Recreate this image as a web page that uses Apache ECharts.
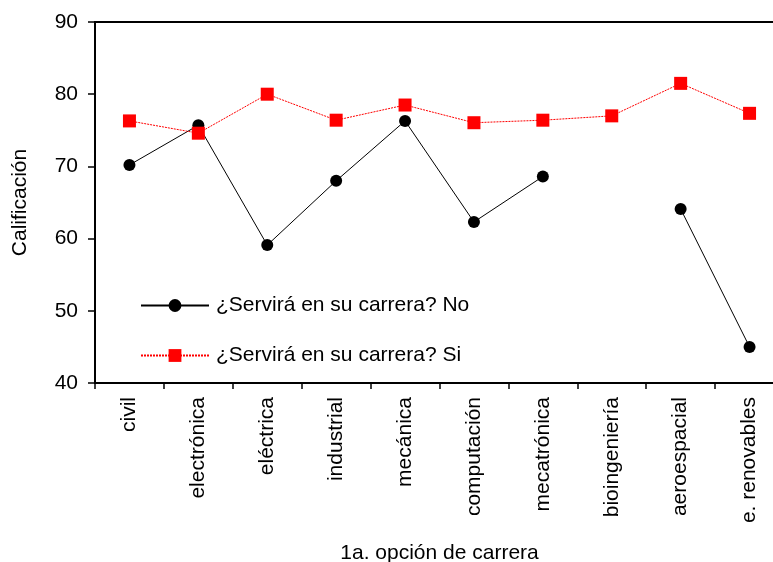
<!DOCTYPE html>
<html><head><meta charset="utf-8">
<script src="https://cdn.jsdelivr.net/npm/echarts@6/dist/echarts.min.js"></script>
<style>html,body{margin:0;padding:0;background:#fff}#c{width:773px;height:562px}</style>
</head><body><div id="c"></div>
<script>
var categories = ['civil','electrónica','eléctrica','industrial','mecánica','computación','mecatrónica','bioingeniería','aeroespacial','e. renovables'];
var serviraNo = [70.2, 75.7, 59.1, 68.0, 76.3, 62.3, 68.6, null, 64.1, 45.0];
var serviraSi = [76.3, 74.6, 80.0, 76.4, 78.5, 76.05, 76.4, 77.0, 81.5, 77.35];
var yTicks = {min: 40, max: 90, interval: 10};
var seriesNames = ['¿Servirá en su carrera? No', '¿Servirá en su carrera? Si'];
var font = 'Liberation Sans, Arial, sans-serif';
var chart = echarts.init(document.getElementById('c'), null, {renderer: 'canvas'});
chart.setOption({
  animation: false,
  backgroundColor: '#fff',
  grid: {left: 95, top: 22, height: 361, width: 689, containLabel: false, outerBoundsMode: 'none',
         show: true, borderColor: '#000', borderWidth: 2, backgroundColor: 'transparent'},
  legend: {
    orient: 'vertical', left: 140, top: 295, padding: 0, itemGap: 29, itemWidth: 68, itemHeight: 16,
    textStyle: {fontFamily: font, fontSize: 21, color: '#000', padding: [0,0,0,2]},
    data: seriesNames
  },
  xAxis: {
    type: 'category', data: categories, boundaryGap: true,
    axisLine: {lineStyle: {color: '#000', width: 2}},
    axisTick: {show: true, length: 6, lineStyle: {color: '#000', width: 1.5}, alignWithLabel: false},
    axisLabel: {rotate: 90, fontFamily: font, fontSize: 21, color: '#000', margin: 14, interval: 0},
    name: '1a. opción de carrera', nameLocation: 'middle', nameGap: 160,
    nameTextStyle: {fontFamily: font, fontSize: 21, color: '#000'}
  },
  yAxis: {
    type: 'value', min: yTicks.min, max: yTicks.max, interval: yTicks.interval,
    splitLine: {show: false},
    axisLine: {show: true, lineStyle: {color: '#000', width: 2}},
    axisTick: {show: true, length: 7, lineStyle: {color: '#000', width: 1.5}},
    axisLabel: {fontFamily: font, fontSize: 21, color: '#000', margin: 17},
    name: 'Calificación', nameLocation: 'middle', nameGap: 64,
    nameTextStyle: {fontFamily: font, fontSize: 21, color: '#000'}
  },
  series: [
    {name: seriesNames[0], type: 'line', data: serviraNo, connectNulls: false,
     symbol: 'circle', symbolSize: 12, showAllSymbol: true,
     itemStyle: {color: '#000'}, lineStyle: {color: '#000', width: 1}},
    {name: seriesNames[1], type: 'line', data: serviraSi,
     symbol: 'rect', symbolSize: 13, showAllSymbol: true,
     itemStyle: {color: '#ff0000'}, lineStyle: {color: '#ff0000', width: 1, type: [2, 1]}}
  ]
});
</script></body></html>
